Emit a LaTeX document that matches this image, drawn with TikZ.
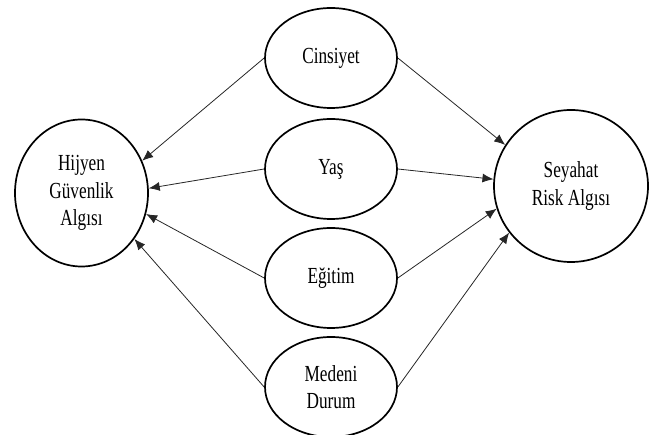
\documentclass[tikz,border=0pt]{standalone}
\usepackage{fontspec}
\setmainfont[FakeStretch=0.75]{Liberation Serif}
\usetikzlibrary{shapes.geometric,arrows.meta}
\begin{document}
\begin{tikzpicture}[x=1pt,y=-1pt,
  oval/.style={draw, line width=1.7pt, ellipse, inner sep=0pt, align=center,
    font=\fontsize{23}{27.5}\selectfont},
  mid/.style={oval, minimum width=132pt, minimum height=100pt},
  arr/.style={-{Latex[length=11pt,width=9pt]}, line width=0.8pt, draw=black!85}]
\useasboundingbox (0,0) rectangle (651,435);
\node[oval, minimum width=133pt, minimum height=147pt] (hij) at (81.5,193) {Hijyen\\Güvenlik\\Algısı};
\node[oval, minimum width=154pt, minimum height=152pt] (sey) at (571,186) {Seyahat\\Risk Algısı};
\node[mid] (cin) at (331,58) {Cinsiyet};
\node[mid] (yas) at (331,169) {Yaş};
\node[mid] (egi) at (331,278) {Eğitim};
\node[mid] (med) at (331,387) {Medeni\\Durum};
\draw[arr] (cin.west) -- (hij.28);
\draw[arr] (yas.west) -- (hij.4);
\draw[arr] (egi.west) -- (hij.-18);
\draw[arr] (med.west) -- (hij.-41);
\draw[arr] (cin.east) -- (sey.148);
\draw[arr] (yas.east) -- (sey.175);
\draw[arr] (egi.east) -- (sey.-163);
\draw[arr] (med.east) -- (sey.-143);
\end{tikzpicture}
\end{document}
